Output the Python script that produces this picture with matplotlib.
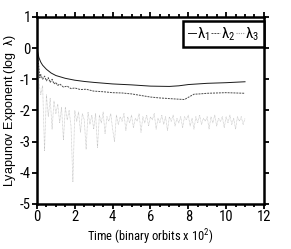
import numpy as np
import matplotlib
matplotlib.use('Agg')
import matplotlib.pyplot as plt
from matplotlib.ticker import MultipleLocator

# time in binary orbits x 10^2
t1 = [0, 0.1, 0.2, 0.3, 0.5, 0.75, 1, 1.5, 2, 2.5, 3, 4, 5, 6, 7, 7.5, 8, 8.5, 9, 10, 11]
lam1 = [0.0, -0.3, -0.45, -0.55, -0.68, -0.8, -0.88, -0.97, -1.03, -1.07, -1.1, -1.15,
        -1.18, -1.22, -1.23, -1.21, -1.17, -1.15, -1.13, -1.11, -1.08]

t2 = [0, 0.1, 0.15, 0.2, 0.3, 0.4, 0.5, 0.6, 0.7, 0.8, 0.9, 1.0, 1.1, 1.2, 1.4, 1.6, 1.8,
      2.0, 2.3, 2.6, 3.0, 3.5, 4, 4.5, 5, 5.5, 6, 6.5, 7, 7.5, 7.8, 8.0, 8.3, 8.6, 9, 9.5,
      10, 10.5, 11]
lam2 = [0.0, -0.6, -0.95, -0.85, -1.0, -0.9, -1.05, -0.95, -1.1, -1.0, -1.15, -1.1, -1.2,
        -1.15, -1.25, -1.22, -1.3, -1.28, -1.33, -1.32, -1.38, -1.4, -1.43, -1.44, -1.47,
        -1.52, -1.57, -1.6, -1.62, -1.64, -1.65, -1.58, -1.48, -1.47, -1.45, -1.44, -1.43,
        -1.44, -1.45]

# lambda_3 sampled every 0.1
t3 = np.round(np.arange(111) * 0.1, 1)
lam3 = [0.0, -1.1, -1.5, -1.2, -3.3, -1.5, -2.2, -1.6, -2.6, -1.7,
        -2.1, -1.8, -2.4, -1.9, -2.95, -1.9, -2.3, -2.0, -2.5, -4.3,
        -2.0, -2.35, -2.05, -2.7, -2.1, -2.3, -3.25, -2.05, -2.45, -2.15,
        -2.6, -2.1, -3.2, -2.15, -2.4, -2.05, -2.75, -2.2, -2.35, -2.1,
        -2.6, -3.0, -2.15, -2.45, -2.2, -2.35, -2.1, -2.65, -2.2, -2.4,
        -2.15, -2.55, -2.25, -2.35, -2.1, -2.7, -2.2, -2.4, -2.15, -2.5,
        -2.2, -2.3, -2.1, -2.6, -2.25, -2.4, -2.15, -2.45, -2.2, -2.65,
        -2.2, -2.35, -2.15, -2.5, -2.25, -2.4, -2.2, -2.55, -2.2, -2.3,
        -2.15, -2.5, -2.25, -2.6, -2.2, -2.4, -2.15, -2.45, -2.25, -2.35,
        -2.2, -2.6, -2.2, -2.4, -2.15, -2.5, -2.25, -2.35, -2.2, -2.55,
        -2.2, -2.4, -2.15, -2.45, -2.25, -2.6, -2.2, -2.35, -2.2, -2.45,
        -2.25]

plt.rcParams['font.family'] = ['Roboto Condensed', 'DejaVu Sans']
plt.rcParams['mathtext.fontset'] = 'custom'
plt.rcParams['mathtext.rm'] = 'Roboto Condensed'
plt.rcParams['mathtext.it'] = 'Roboto Condensed'
plt.rcParams['axes.unicode_minus'] = False

fig = plt.figure(figsize=(2.91, 2.49), dpi=100)
ax = fig.add_axes([0.127, 0.181, 0.78, 0.751])

ax.plot(t3, lam3, color='#bdbdbd', lw=0.5, ls=(0, (1, 1)), label=r'$\lambda_3$')
ax.plot(t2, lam2, color='#4a4a4a', lw=0.7, ls=(0, (2, 1)), label=r'$\lambda_2$')
ax.plot(t1, lam1, color='#1a1a1a', lw=0.7, label=r'$\lambda_1$')

ax.set_xlim(0, 12)
ax.set_ylim(-5, 1)
ax.xaxis.set_major_locator(MultipleLocator(2))
ax.xaxis.set_minor_locator(MultipleLocator(0.5))
ax.yaxis.set_major_locator(MultipleLocator(1))
ax.tick_params(which='both', direction='out', top=True, right=True, labelsize=10.5,
               width=1.3, pad=1)
ax.tick_params(which='major', length=3.5)
ax.tick_params(which='minor', length=2)
for s in ax.spines.values():
    s.set_linewidth(1.8)

ax.set_xlabel(r'Time (binary orbits x 10$^2$)', fontsize=9, labelpad=2)
ax.set_ylabel(r'Lyapunov Exponent (log  $\lambda$)', fontsize=9,
              family=['Liberation Sans', 'DejaVu Sans'])
ax.yaxis.set_label_coords(-0.085, 0.5)

h, l = ax.get_legend_handles_labels()
leg = ax.legend(h[::-1], l[::-1], loc='upper right', bbox_to_anchor=(1.0, 0.98),
                ncol=3, fontsize=11, handlelength=0.55, handletextpad=0.05,
                columnspacing=0.1, borderpad=0.3, borderaxespad=0,
                fancybox=False, framealpha=1)
leg.get_frame().set_edgecolor('black')
leg.get_frame().set_linewidth(1.8)
leg.get_lines()[2].set_color('#999999')
leg.get_lines()[2].set_linewidth(0.8)

fig.savefig('out.png', dpi=100)
